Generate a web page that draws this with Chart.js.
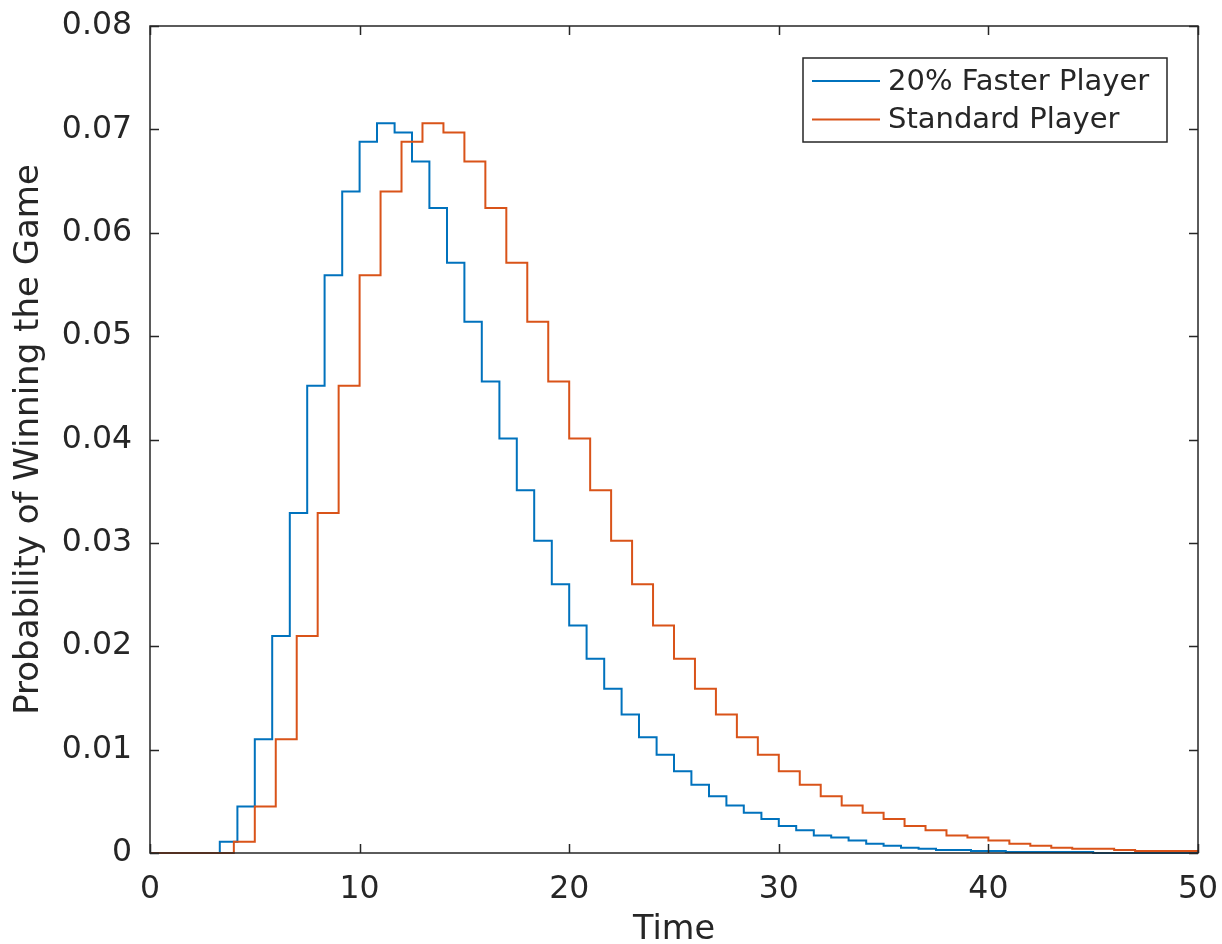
<!DOCTYPE html>
<html>
<head>
<meta charset="utf-8">
<script src="https://cdn.jsdelivr.net/npm/chart.js@4"></script>
<style>
    html, body { margin: 0; padding: 0; background: #fff; }
    #wrap { width: 1222px; height: 944px; }
</style>
</head>
<body>
<div id="wrap"><canvas id="win-chart" width="1222" height="944"></canvas></div>
<script>
// Standard player: probability per unit time step
const standardTime = [0, 1, 2, 3, 4, 5, 6, 7, 8, 9, 10, 11, 12, 13, 14, 15, 16, 17, 18, 19, 20,
    21, 22, 23, 24, 25, 26, 27, 28, 29, 30, 31, 32, 33, 34, 35, 36, 37, 38, 39, 40,
    41, 42, 43, 44, 45, 46, 47, 48, 49, 50];
const standardProb = [0, 0, 0, 0, 0.0011, 0.0045, 0.0110, 0.0210, 0.0329, 0.0452, 0.0559,
    0.0640, 0.0688, 0.0706, 0.0697, 0.0669, 0.0624, 0.0571, 0.0514, 0.0456, 0.0401,
    0.0351, 0.0302, 0.0260, 0.0220, 0.0188, 0.0159, 0.0134, 0.0112, 0.0095, 0.0079,
    0.0066, 0.0055, 0.0046, 0.0039, 0.0033, 0.0026, 0.0022, 0.0017, 0.0015, 0.0012,
    0.0009, 0.0007, 0.0005, 0.0004, 0.0004, 0.0003, 0.0002, 0.0002, 0.0002, 0.0001];

// 20% faster player: steps are shorter
const fasterTime = [0, 0.83, 1.67, 2.5, 3.33, 4.17, 5, 5.83, 6.67, 7.5, 8.33, 9.17, 10,
    10.83, 11.67, 12.5, 13.33, 14.17, 15, 15.83, 16.67, 17.5, 18.33, 19.17, 20,
    20.83, 21.67, 22.5, 23.33, 24.17, 25, 25.83, 26.67, 27.5, 28.33, 29.17, 30,
    30.83, 31.67, 32.5, 33.33, 34.17, 35, 35.83, 36.67, 37.5, 38.33, 39.17, 40,
    40.83, 41.67, 42.5, 43.33, 44.17, 45, 45.83, 46.67, 47.5, 48.33, 49.17, 50];
const fasterProb = [0, 0, 0, 0, 0.0011, 0.0045, 0.0110, 0.0210, 0.0329, 0.0452, 0.0559,
    0.0640, 0.0688, 0.0706, 0.0697, 0.0669, 0.0624, 0.0571, 0.0514, 0.0456, 0.0401,
    0.0351, 0.0302, 0.0260, 0.0220, 0.0188, 0.0159, 0.0134, 0.0112, 0.0095, 0.0079,
    0.0066, 0.0055, 0.0046, 0.0039, 0.0033, 0.0026, 0.0022, 0.0017, 0.0015, 0.0012,
    0.0009, 0.0007, 0.0005, 0.0004, 0.0003, 0.0003, 0.0002, 0.0002, 0.0001, 0.0001,
    0.0001, 0.0001, 0.0001, 0, 0, 0, 0, 0, 0, 0];

const seriesLabels = ['20% Faster Player', 'Standard Player'];
const seriesColors = ['#0072bd', '#d95319'];
const xTicks = [0, 10, 20, 30, 40, 50];
const yTicks = [0, 0.01, 0.02, 0.03, 0.04, 0.05, 0.06, 0.07, 0.08];

const axisColor = '#262626';
const fontFamily = '"DejaVu Sans", sans-serif';

function toPoints(xs, ys) {
    return xs.map((x, i) => ({ x: x, y: ys[i] }));
}

// box around the axes with inward ticks on all four sides
const boxPlugin = {
    id: 'box',
    afterDatasetsDraw(chart) {
        const { ctx, chartArea: a, scales } = chart;
        const len = 9;
        ctx.save();
        ctx.strokeStyle = axisColor;
        ctx.lineWidth = 1.5;
        ctx.strokeRect(a.left, a.top, a.right - a.left, a.bottom - a.top);
        ctx.beginPath();
        xTicks.forEach(v => {
            const px = Math.round(scales.x.getPixelForValue(v)) + 0.5;
            ctx.moveTo(px, a.bottom); ctx.lineTo(px, a.bottom - len);
            ctx.moveTo(px, a.top); ctx.lineTo(px, a.top + len);
        });
        yTicks.forEach(v => {
            const py = Math.round(scales.y.getPixelForValue(v)) + 0.5;
            ctx.moveTo(a.left, py); ctx.lineTo(a.left + len, py);
            ctx.moveTo(a.right, py); ctx.lineTo(a.right - len, py);
        });
        ctx.stroke();
        ctx.restore();
    },
    afterDraw(chart) {
        // legend box in the upper right corner
        const { ctx, chartArea: a } = chart;
        const boxR = a.right - 31, boxL = boxR - 364, boxT = a.top + 32, boxB = boxT + 84;
        ctx.save();
        ctx.fillStyle = '#fff';
        ctx.fillRect(boxL, boxT, boxR - boxL, boxB - boxT);
        ctx.strokeStyle = axisColor;
        ctx.lineWidth = 1.5;
        ctx.strokeRect(boxL, boxT, boxR - boxL, boxB - boxT);
        ctx.font = '29px ' + fontFamily;
        ctx.textBaseline = 'middle';
        ctx.fillStyle = axisColor;
        chart.data.datasets.forEach((ds, i) => {
            const cy = boxT + 23 + i * 38.5;
            ctx.strokeStyle = ds.borderColor;
            ctx.lineWidth = 2;
            ctx.beginPath();
            ctx.moveTo(boxL + 9, cy); ctx.lineTo(boxL + 77, cy);
            ctx.stroke();
            ctx.fillText(ds.label, boxL + 85, cy + 1);
        });
        ctx.restore();
    }
};

const config = {
    type: 'line',
    data: {
        datasets: [
            {
                label: seriesLabels[0],
                data: toPoints(fasterTime, fasterProb),
                borderColor: seriesColors[0],
                backgroundColor: seriesColors[0],
                borderWidth: 2,
                stepped: true,
                pointRadius: 0,
                fill: false,
                clip: false,
                order: 1,
            },
            {
                label: seriesLabels[1],
                data: toPoints(standardTime, standardProb),
                borderColor: seriesColors[1],
                backgroundColor: seriesColors[1],
                borderWidth: 2,
                stepped: true,
                pointRadius: 0,
                fill: false,
                clip: false,
                order: 0,
            },
        ],
    },
    options: {
        responsive: false,
        animation: false,
        layout: { padding: { top: 26, right: 24, left: 0, bottom: 0 } },
        plugins: {
            legend: { display: false },
            tooltip: { enabled: false },
        },
        scales: {
            x: {
                type: 'linear',
                min: 0,
                max: 50,
                afterFit: scale => {
                    scale.height = 91;
                    scale.paddingLeft = 0;
                    scale.paddingRight = 0;
                },
                afterBuildTicks: scale => { scale.ticks = xTicks.map(v => ({ value: v })); },
                grid: { display: false, drawTicks: false },
                border: { display: false },
                ticks: {
                    color: axisColor,
                    font: { family: fontFamily, size: 31.5 },
                    padding: 18,
                    maxRotation: 0,
                },
                title: {
                    display: true,
                    text: 'Time',
                    color: axisColor,
                    font: { family: fontFamily, size: 33.5, lineHeight: 1 },
                    padding: { top: 0, bottom: -3 },
                },
            },
            y: {
                min: 0,
                max: 0.08,
                afterFit: scale => {
                    scale.width = 150;
                    scale.paddingTop = 0;
                    scale.paddingBottom = 0;
                },
                afterBuildTicks: scale => { scale.ticks = yTicks.map(v => ({ value: v })); },
                grid: { display: false, drawTicks: false },
                border: { display: false },
                ticks: {
                    color: axisColor,
                    font: { family: fontFamily, size: 31.5 },
                    padding: 18,
                    callback: v => (v === 0 ? '0' : v.toFixed(2)),
                },
                title: {
                    display: true,
                    text: 'Probability of Winning the Game',
                    color: axisColor,
                    font: { family: fontFamily, size: 34 },
                    padding: { top: 9, bottom: 0 },
                },
            },
        },
    },
    plugins: [boxPlugin],
};

new Chart(document.getElementById('win-chart'), config);
</script>
</body>
</html>
